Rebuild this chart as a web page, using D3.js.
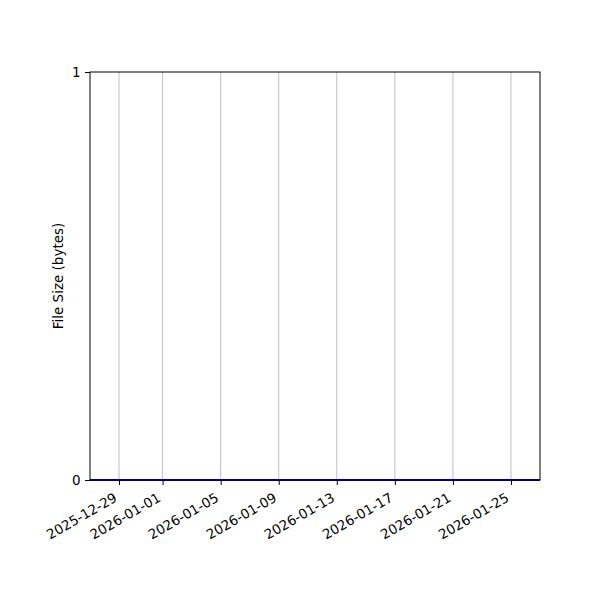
<!DOCTYPE html>
<html>
<head>
<meta charset="utf-8">
<script src="https://cdn.jsdelivr.net/npm/d3@7"></script>
<style>
  body { margin: 0; background: #fff; }
  svg { font-family: "DejaVu Sans", sans-serif; }
</style>
</head>
<body>
<svg></svg>
<script>
// chart data
let dates = ['2025-12-27', '2026-01-01', '2026-01-09', '2026-01-17', '2026-01-27']
let sizes = [0, 0, 0, 0, 0]
let xTicks = ['2025-12-29', '2026-01-01', '2026-01-05', '2026-01-09', '2026-01-13', '2026-01-17', '2026-01-21', '2026-01-25']
let yTicks = [0, 1]
let xDomain = ['2025-12-27', '2026-01-27']

let width = 600
let height = 600
let padLeft = 90, padRight = 540, padTop = 72, padBottom = 480
let fontSize = 13.5

let parse = d3.utcParse('%Y-%m-%d')
let fmt = d3.utcFormat('%Y-%m-%d')

let svg = d3.select('svg').attr('width', width).attr('height', height)

let xScale = d3.scaleUtc()
    .domain(xDomain.map(parse))
    .range([padLeft, padRight])
let yScale = d3.scaleLinear()
    .domain([0, 1])
    .range([padBottom, padTop])

// vertical grid
svg.append('g')
    .selectAll('line')
    .data(xTicks.map(parse))
    .enter()
    .append('line')
    .attr('x1', d => xScale(d))
    .attr('x2', d => xScale(d))
    .attr('y1', padTop)
    .attr('y2', padBottom)
    .attr('stroke', '#b0b0b0')
    .attr('stroke-width', 0.8)

// data line
let line = d3.line()
    .x((d, i) => xScale(parse(dates[i])))
    .y(d => yScale(d))
svg.append('path')
    .datum(sizes)
    .attr('d', line)
    .attr('fill', 'none')
    .attr('stroke', '#0000ff')
    .attr('stroke-width', 2)

// frame
svg.append('rect')
    .attr('x', padLeft).attr('y', padTop)
    .attr('width', padRight - padLeft).attr('height', padBottom - padTop)
    .attr('fill', 'none')
    .attr('stroke', '#000')
    .attr('stroke-width', 1)

let xAxis = d3.axisBottom(xScale)
    .tickValues(xTicks.map(parse))
    .tickFormat(fmt)
    .tickSize(5)
    .tickSizeOuter(0)
let gx = svg.append('g')
    .attr('transform', 'translate(0,' + padBottom + ')')
    .call(xAxis)
gx.select('.domain').remove()
gx.selectAll('line').attr('stroke', '#000')
gx.selectAll('text')
    .attr('font-size', fontSize)
    .attr('font-family', 'DejaVu Sans')
    .attr('fill', '#000')
    .attr('text-anchor', 'end')
    .attr('dy', null)
    .attr('y', 0)
    .attr('transform', 'translate(-1.5,20.5) rotate(-30)')

let yAxis = d3.axisLeft(yScale)
    .tickValues(yTicks)
    .tickFormat(d3.format('d'))
    .tickSize(5)
    .tickSizeOuter(0)
let gy = svg.append('g')
    .attr('transform', 'translate(' + padLeft + ',0)')
    .call(yAxis)
gy.select('.domain').remove()
gy.selectAll('line').attr('stroke', '#000')
gy.selectAll('text')
    .attr('font-size', fontSize)
    .attr('font-family', 'DejaVu Sans')
    .attr('fill', '#000')
    .attr('x', -9.5)

svg.append('text')
    .attr('transform', 'translate(63,' + ((padTop + padBottom) / 2) + ') rotate(-90)')
    .attr('text-anchor', 'middle')
    .attr('font-size', fontSize)
    .attr('fill', '#000')
    .text('File Size (bytes)')
</script>
</body>
</html>
